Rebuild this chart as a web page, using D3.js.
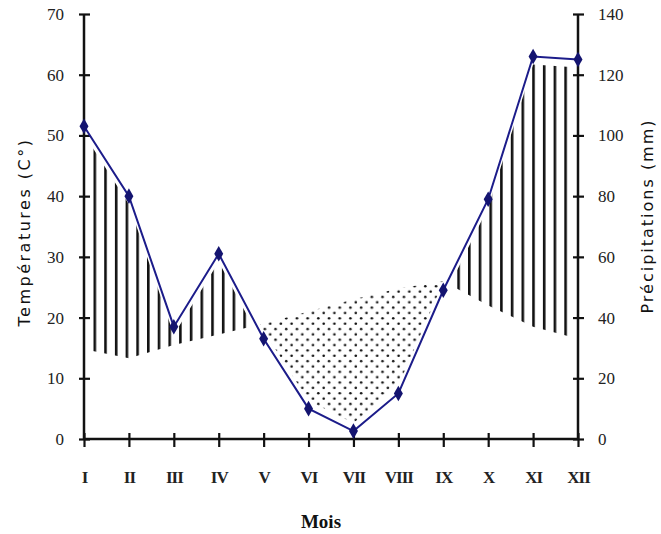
<!DOCTYPE html>
<html>
<head>
<meta charset="utf-8">
<script src="https://cdn.jsdelivr.net/npm/d3@7"></script>
<style>
  body { margin: 0; background: #fff; }
  svg { display: block; }
  .tick text { font-family: "Liberation Serif", "Times New Roman", serif; font-size: 17px; fill: #222; }
</style>
</head>
<body>
<div id="chart"></div>
<script>
// monthly values
var months = ["I", "II", "III", "IV", "V", "VI", "VII", "VIII", "IX", "X", "XI", "XII"];
var temperature = [14.8, 13.3, 15.5, 17.2, 19, 21, 23, 24.8, 26, 22, 18.5, 16.5];   // °C
var precipitation = [103, 80, 37, 61, 33, 10, 2.6, 15, 49, 79, 126, 125];           // mm
var tempTicks = [0, 10, 20, 30, 40, 50, 60, 70];
var precTicks = [0, 20, 40, 60, 80, 100, 120, 140];

var width = 661, height = 534;
var pLeft = 84, pRight = 578, pTop = 14, pBottom = 439;
var gap = 8, hatchStep = 10.7;

var svg = d3.select("#chart").append("svg")
    .attr("width", width)
    .attr("height", height);

var x = d3.scalePoint().domain(months).range([pLeft, pRight]);
var yT = d3.scaleLinear().domain([0, 70]).range([pBottom, pTop]);
var yP = d3.scaleLinear().domain([0, 140]).range([pBottom, pTop]);

var data = months.map(function (m, i) {
  return { m: m, t: temperature[i], p: precipitation[i] };
});

var defs = svg.append("defs");

// vertical hatching for the humid months
var hatch = defs.append("pattern")
    .attr("id", "hatch")
    .attr("patternUnits", "userSpaceOnUse")
    .attr("x", pLeft - 1.2)
    .attr("y", 0)
    .attr("width", hatchStep)
    .attr("height", 20);
hatch.append("rect")
    .attr("x", 0).attr("y", 0)
    .attr("width", 2.6).attr("height", 20)
    .attr("fill", "#111");

// dots for the dry months
var dots = defs.append("pattern")
    .attr("id", "dots")
    .attr("patternUnits", "userSpaceOnUse")
    .attr("width", 10.7)
    .attr("height", 10.7);
dots.append("circle").attr("cx", 2.7).attr("cy", 2.7).attr("r", 1.3).attr("fill", "#111");
dots.append("circle").attr("cx", 8.05).attr("cy", 8.05).attr("r", 1.3).attr("fill", "#111");

// clip regions built from the two curves
var belowT = d3.area().x(function (d) { return x(d.m); })
    .y0(pBottom).y1(function (d) { return yT(d.t); });
var aboveT = d3.area().x(function (d) { return x(d.m); })
    .y0(pTop).y1(function (d) { return yT(d.t); });
var belowP = d3.area().x(function (d) { return x(d.m); })
    .y0(pBottom).y1(function (d) { return yP(d.p) + gap; });
var aboveP = d3.area().x(function (d) { return x(d.m); })
    .y0(pTop).y1(function (d) { return yP(d.p) - gap; });

defs.append("clipPath").attr("id", "cBelowT").append("path").attr("d", belowT(data));
defs.append("clipPath").attr("id", "cAboveT").append("path").attr("d", aboveT(data));
defs.append("clipPath").attr("id", "cBelowP").append("path").attr("d", belowP(data));
defs.append("clipPath").attr("id", "cAboveP").append("path").attr("d", aboveP(data));

// humid: between temperature (bottom) and precipitation (top)
svg.append("g").attr("clip-path", "url(#cAboveT)")
  .append("rect")
    .attr("clip-path", "url(#cBelowP)")
    .attr("x", pLeft + 4).attr("y", pTop)
    .attr("width", pRight - pLeft - 8).attr("height", pBottom - pTop)
    .attr("fill", "url(#hatch)");

// dry: between precipitation (bottom) and temperature (top)
svg.append("g").attr("clip-path", "url(#cBelowT)")
  .append("rect")
    .attr("clip-path", "url(#cAboveP)")
    .attr("x", pLeft).attr("y", pTop)
    .attr("width", pRight - pLeft).attr("height", pBottom - pTop)
    .attr("fill", "url(#dots)");

// axes
var gl = svg.append("g")
    .attr("transform", "translate(" + pLeft + ",0)")
    .call(d3.axisLeft(yT).tickValues(tempTicks).tickSize(6).tickPadding(14));
gl.selectAll(".tick line").attr("x1", -5).attr("x2", 6);

var gr = svg.append("g")
    .attr("transform", "translate(" + pRight + ",0)")
    .call(d3.axisRight(yP).tickValues(precTicks).tickSize(6).tickPadding(14));
gr.selectAll(".tick line").attr("x1", -5).attr("x2", 6);

var gb = svg.append("g")
    .attr("transform", "translate(0," + pBottom + ")")
    .call(d3.axisBottom(x).tickSize(7).tickPadding(25));
gb.selectAll(".tick line").attr("y1", -6).attr("y2", 8);
gb.selectAll(".tick text").style("letter-spacing", "-1px").style("font-weight", "bold").style("font-size", "17px");

[gl, gr, gb].forEach(function (g) {
  g.select(".domain").remove();
  g.selectAll(".tick line").attr("stroke", "#111").attr("stroke-width", 2.2);
});

svg.append("line").attr("x1", pLeft).attr("x2", pLeft).attr("y1", pTop).attr("y2", pBottom)
    .attr("stroke", "#111").attr("stroke-width", 2.5);
svg.append("line").attr("x1", pRight).attr("x2", pRight).attr("y1", pTop).attr("y2", pBottom)
    .attr("stroke", "#111").attr("stroke-width", 2.5);
svg.append("line").attr("x1", pLeft).attr("x2", pRight).attr("y1", pBottom).attr("y2", pBottom)
    .attr("stroke", "#111").attr("stroke-width", 2.5);

// precipitation line
var line = d3.line().x(function (d) { return x(d.m); }).y(function (d) { return yP(d.p); });
svg.append("path")
    .attr("d", line(data))
    .attr("fill", "none")
    .attr("stroke", "#1c1c8a")
    .attr("stroke-width", 2);

svg.selectAll(".pt")
  .data(data)
  .enter().append("path")
    .attr("class", "pt")
    .attr("transform", function (d) { return "translate(" + x(d.m) + "," + yP(d.p) + ")"; })
    .attr("d", d3.symbol().type(d3.symbolDiamond).size(70))
    .attr("fill", "#141470");

// titles
svg.append("text")
    .attr("transform", "translate(30,232) rotate(-90)")
    .attr("text-anchor", "middle")
    .style("font-family", "'DejaVu Sans', sans-serif")
    .style("font-size", "16px")
    .style("letter-spacing", "2.5px")
    .attr("fill", "#111")
    .text("Températures (C°)");

svg.append("text")
    .attr("transform", "translate(653,216) rotate(-90)")
    .attr("text-anchor", "middle")
    .style("font-family", "'DejaVu Sans', sans-serif")
    .style("font-size", "16px")
    .style("letter-spacing", "2px")
    .attr("fill", "#111")
    .text("Précipitations (mm)");

svg.append("text")
    .attr("x", 321)
    .attr("y", 528)
    .attr("text-anchor", "middle")
    .style("font-family", "'Liberation Serif', serif")
    .style("font-size", "19px")
    .style("font-weight", "bold")
    .attr("fill", "#111")
    .text("Mois");
</script>
</body>
</html>
